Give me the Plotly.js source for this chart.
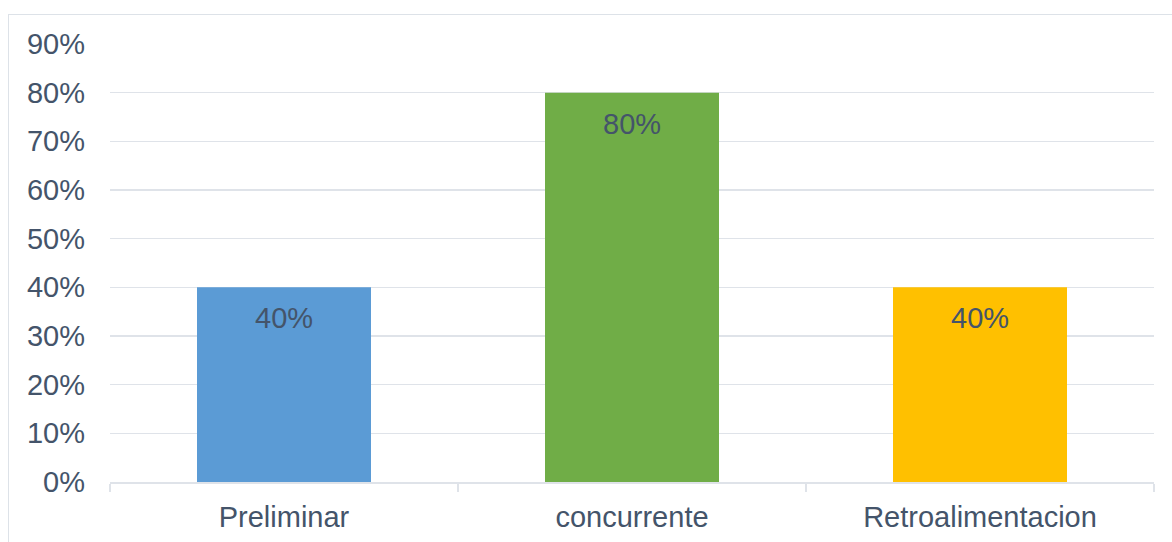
<!DOCTYPE html>
<html>
<head>
<meta charset="utf-8">
<script src="https://cdn.plot.ly/plotly-3.0.1.min.js"></script>
<style>
  html, body { margin: 0; padding: 0; background: #ffffff; }
  #wrap { position: relative; width: 1172px; height: 542px; overflow: hidden; }
  #frame { position: absolute; left: 8px; top: 14px; width: 1200px; height: 600px;
           border-left: 1px solid #dde2e8; border-top: 1px solid #dde2e8; }
  #chart { position: absolute; left: 0; top: 0; width: 1172px; height: 542px; }
</style>
</head>
<body>
<div id="wrap">
  <div id="frame"></div>
  <div id="chart"></div>
</div>
<script>
// Tipos de control y su porcentaje
const categories = ['Preliminar', 'concurrente', 'Retroalimentacion'];
const values = [0.40, 0.80, 0.40];
const barColors = ['#5B9BD5', '#70AD47', '#FFC000'];
const yTicks = [0, 0.1, 0.2, 0.3, 0.4, 0.5, 0.6, 0.7, 0.8, 0.9];

const textColor = '#44546A';
const lineColor = '#dfe3e9';
const fontFamily = 'Arial, "Liberation Sans", sans-serif';
const fontSize = 29;

const trace = {
  type: 'bar',
  x: categories,
  y: values,
  marker: { color: barColors },
  hoverinfo: 'skip'
};

// Value labels placed just inside the top of each bar
const labels = categories.map((c, i) => ({
  x: c,
  y: values[i],
  xref: 'x',
  yref: 'y',
  text: Math.round(values[i] * 100) + '%',
  showarrow: false,
  yanchor: 'top',
  yshift: -13,
  font: { family: fontFamily, size: fontSize, color: textColor }
}));

const layout = {
  width: 1172,
  height: 542,
  margin: { l: 110, r: 18, t: 44, b: 60 },
  paper_bgcolor: 'rgba(0,0,0,0)',
  plot_bgcolor: 'rgba(0,0,0,0)',
  bargap: 0.5,
  showlegend: false,
  font: { family: fontFamily, size: fontSize, color: textColor },
  xaxis: {
    type: 'category',
    showgrid: false,
    showline: true,
    linecolor: lineColor,
    linewidth: 1.5,
    tickson: 'boundaries',
    ticks: 'outside',
    ticklen: 8,
    tickcolor: lineColor,
    tickwidth: 1.5,
    ticklabelstandoff: 9,
    tickfont: { family: fontFamily, size: fontSize, color: textColor },
    zeroline: false
  },
  yaxis: {
    range: [0, 0.9],
    tickvals: yTicks,
    tickformat: '.0%',
    showgrid: true,
    gridcolor: lineColor,
    gridwidth: 1.5,
    showline: false,
    zeroline: false,
    ticks: '',
    ticklabelstandoff: 24,
    tickfont: { family: fontFamily, size: fontSize, color: textColor }
  },
  annotations: labels
};

Plotly.newPlot('chart', [trace], layout, { displayModeBar: false, staticPlot: true });
</script>
</body>
</html>
